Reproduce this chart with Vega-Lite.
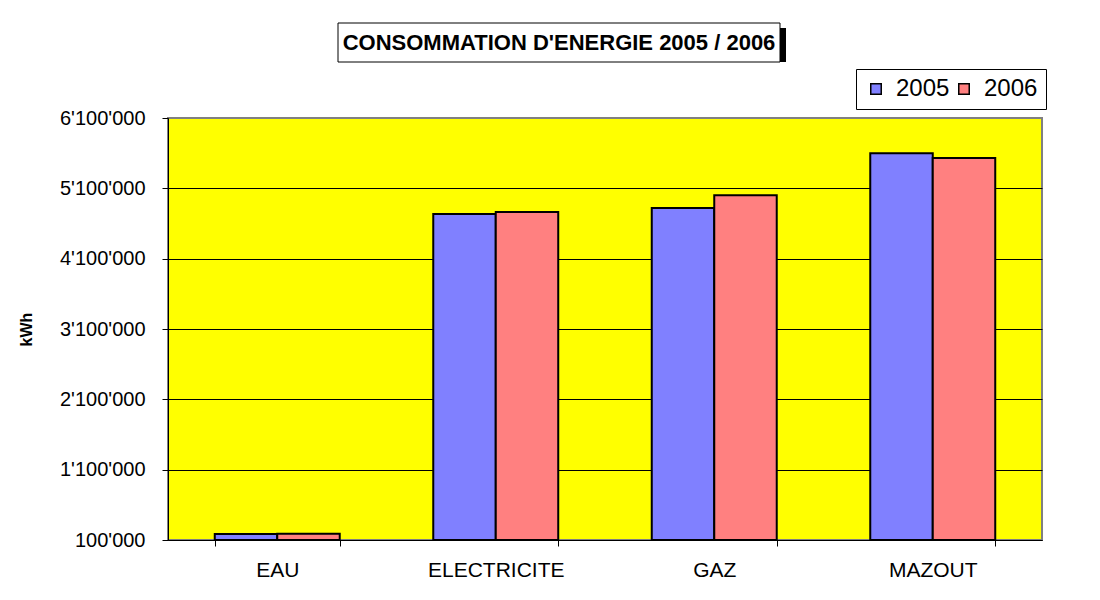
{
  "$schema": "https://vega.github.io/schema/vega-lite/v6.json",
  "background": "white",
  "padding": {"left": 17, "top": 22, "right": 0, "bottom": 0},
  "spacing": 44,
  "config": {
    "font": "Liberation Sans",
    "locale": {"number": {"decimal": ".", "thousands": "'", "grouping": [3], "currency": ["", ""]}}
  },
  "vconcat": [
    {
      "spacing": 0,
      "hconcat": [
        {
          "width": 169,
          "height": 39,
          "view": {"stroke": null},
          "data": {"values": [{"vide": ""}]},
          "mark": {"type": "text", "opacity": 0},
          "encoding": {"text": {"field": "vide"}}
        },
        {
          "width": 442,
          "height": 39,
          "view": {"stroke": null},
          "data": {"values": [{"titre": "CONSOMMATION D'ENERGIE 2005 / 2006"}]},
          "layer": [
            {
              "mark": {"type": "rect", "color": "black", "xOffset": 6, "x2Offset": 6, "yOffset": 5, "y2Offset": 5, "clip": false},
              "encoding": {}
            },
            {
              "mark": {"type": "rect", "fill": "white", "stroke": "black", "strokeWidth": 1},
              "encoding": {}
            },
            {
              "mark": {"type": "text", "font": "Liberation Sans", "fontSize": 22, "fontWeight": "bold", "color": "black"},
              "encoding": {"text": {"field": "titre"}}
            }
          ]
        }
      ]
    },
    {
      "width": 874,
      "height": 422,
      "view": {"fill": "#FFFF00", "stroke": "#808080", "strokeWidth": 2},
      "data": {
        "values": [
          {"poste": "EAU", "annee": "2005", "kwh": 185000},
          {"poste": "EAU", "annee": "2006", "kwh": 190000},
          {"poste": "ELECTRICITE", "annee": "2005", "kwh": 4735000},
          {"poste": "ELECTRICITE", "annee": "2006", "kwh": 4765000},
          {"poste": "GAZ", "annee": "2005", "kwh": 4820000},
          {"poste": "GAZ", "annee": "2006", "kwh": 5000000},
          {"poste": "MAZOUT", "annee": "2005", "kwh": 5600000},
          {"poste": "MAZOUT", "annee": "2006", "kwh": 5530000}
        ]
      },
      "mark": {"type": "bar", "stroke": "black", "strokeWidth": 2, "opacity": 1},
      "encoding": {
        "x": {
          "field": "poste", "type": "nominal", "sort": null,
          "scale": {"paddingInner": 0.428, "paddingOuter": 0.214},
          "axis": {
            "title": null, "labelAngle": 0, "labelFont": "Liberation Sans", "labelFontSize": 21,
            "labelColor": "black", "labelPadding": 13, "tickBand": "extent", "tickSize": 6,
            "tickColor": "black", "tickWidth": 1, "domainColor": "black", "domainWidth": 1, "grid": false
          }
        },
        "xOffset": {"field": "annee", "type": "nominal", "scale": {"paddingInner": 0, "paddingOuter": 0}},
        "y": {
          "field": "kwh", "type": "quantitative",
          "scale": {"domain": [100000, 6100000], "zero": false, "nice": false},
          "axis": {
            "title": "kWh", "titleFont": "Liberation Sans", "titleFontSize": 16, "titleFontWeight": "bold",
            "titleColor": "black", "titlePadding": 25,
            "values": [100000, 1100000, 2100000, 3100000, 4100000, 5100000, 6100000],
            "format": ",d", "labelFont": "Liberation Sans", "labelFontSize": 20, "labelColor": "black",
            "labelPadding": 17, "tickSize": 6, "tickColor": "black", "domainColor": "black", "domainWidth": 1,
            "grid": true, "gridWidth": 1,
            "gridColor": {"condition": {"test": "datum.value == 6100000", "value": "#808080"}, "value": "black"}
          }
        },
        "y2": {"datum": 100000},
        "color": {
          "field": "annee", "type": "nominal",
          "scale": {"domain": ["2005", "2006"], "range": ["#8080FF", "#FF8080"]},
          "legend": {
            "title": null, "orient": "none", "legendX": 688, "legendY": 46, "direction": "horizontal",
            "strokeColor": "black", "fillColor": "white", "padding": 8,
            "symbolType": "square", "symbolSize": 110, "symbolStrokeColor": "black", "symbolStrokeWidth": 1.5,
            "symbolOpacity": 1, "labelFont": "Liberation Sans", "labelFontSize": 24, "labelColor": "black",
            "labelOffset": 8, "columnPadding": 2
          }
        }
      }
    }
  ]
}
